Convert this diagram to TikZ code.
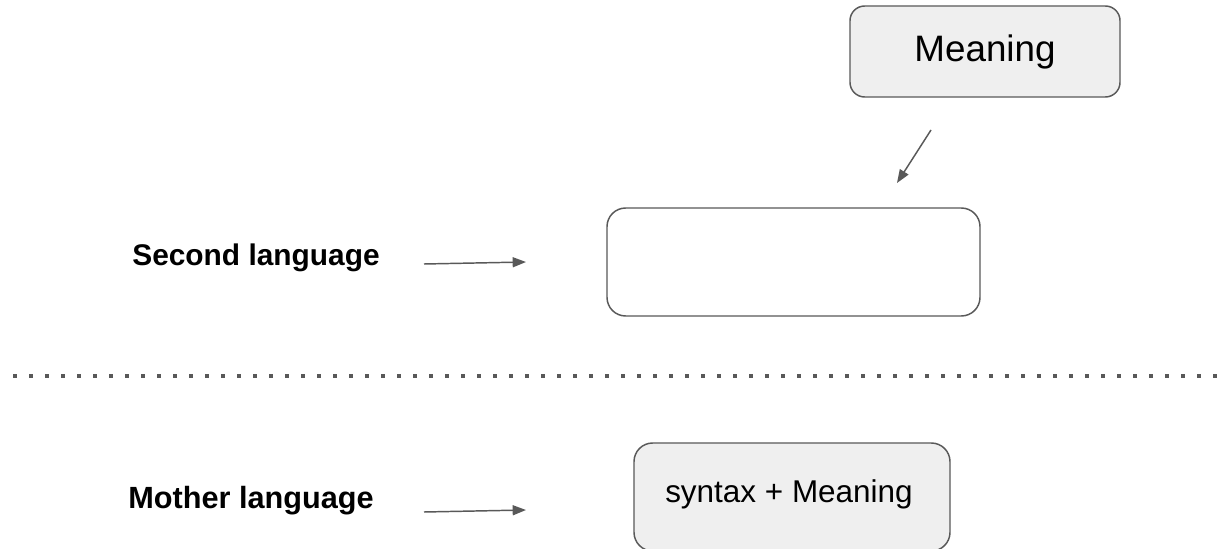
\documentclass[tikz,border=0pt]{standalone}
\usepackage{fontspec}
\setmainfont{Liberation Sans}
\usetikzlibrary{arrows.meta}
\definecolor{edgegray}{HTML}{595959}
\definecolor{boxfill}{HTML}{EFEFEF}
\tikzset{
  box/.style={draw=edgegray, line width=1.1pt, rounded corners=11pt, inner sep=0pt, align=center},
  label/.style={font=\bfseries\fontsize{22.4pt}{26pt}\selectfont, inner sep=0pt, anchor=center},
  conn/.style={draw=edgegray, line width=1.1pt, -{Stealth[length=10pt,width=7.5pt,inset=0pt]}},
  divider/.style={draw=edgegray, line width=2.6pt, dash pattern=on 2.8pt off 9.2pt}
}
\begin{document}
\begin{tikzpicture}[x=0.75pt,y=-0.75pt]
\useasboundingbox (0,0) rectangle (1225,549);
\fill[white] (0,0) rectangle (1225,549);
% boxes
\node[box, fill=boxfill, minimum width=270*0.75pt, minimum height=91*0.75pt,
      font=\fontsize{27.6pt}{32pt}\selectfont] (meaning) at (985,51.5) {Meaning};
\node[box, fill=white, minimum width=373*0.75pt, minimum height=108*0.75pt, rounded corners=14pt] (second) at (793.5,262) {};
\node[box, fill=boxfill, minimum width=316*0.75pt, minimum height=108*0.75pt, rounded corners=14pt] (mother) at (792,497) {};
\node[font=\fontsize{23.6pt}{28pt}\selectfont, inner sep=0pt] (syntax) at (789,494) {syntax + Meaning};
% labels
\node[label] (lsecond) at (256,258) {Second language};
\node[label, font=\bfseries\fontsize{23pt}{27pt}\selectfont] (lmother) at (251,501) {Mother language};
% arrows
\coordinate (m1) at (931,130);
\coordinate (m2) at (897,183);
\draw[conn] (m1) -- (m2);
\coordinate (s1) at (424,264);
\coordinate (s2) at (526,262);
\draw[conn] (s1) -- (s2);
\coordinate (t1) at (424,512);
\coordinate (t2) at (526,510);
\draw[conn] (t1) -- (t2);
% divider
\coordinate (d1) at (13,376);
\coordinate (d2) at (1220,376);
\draw[divider] (d1) -- (d2);
\end{tikzpicture}
\end{document}
